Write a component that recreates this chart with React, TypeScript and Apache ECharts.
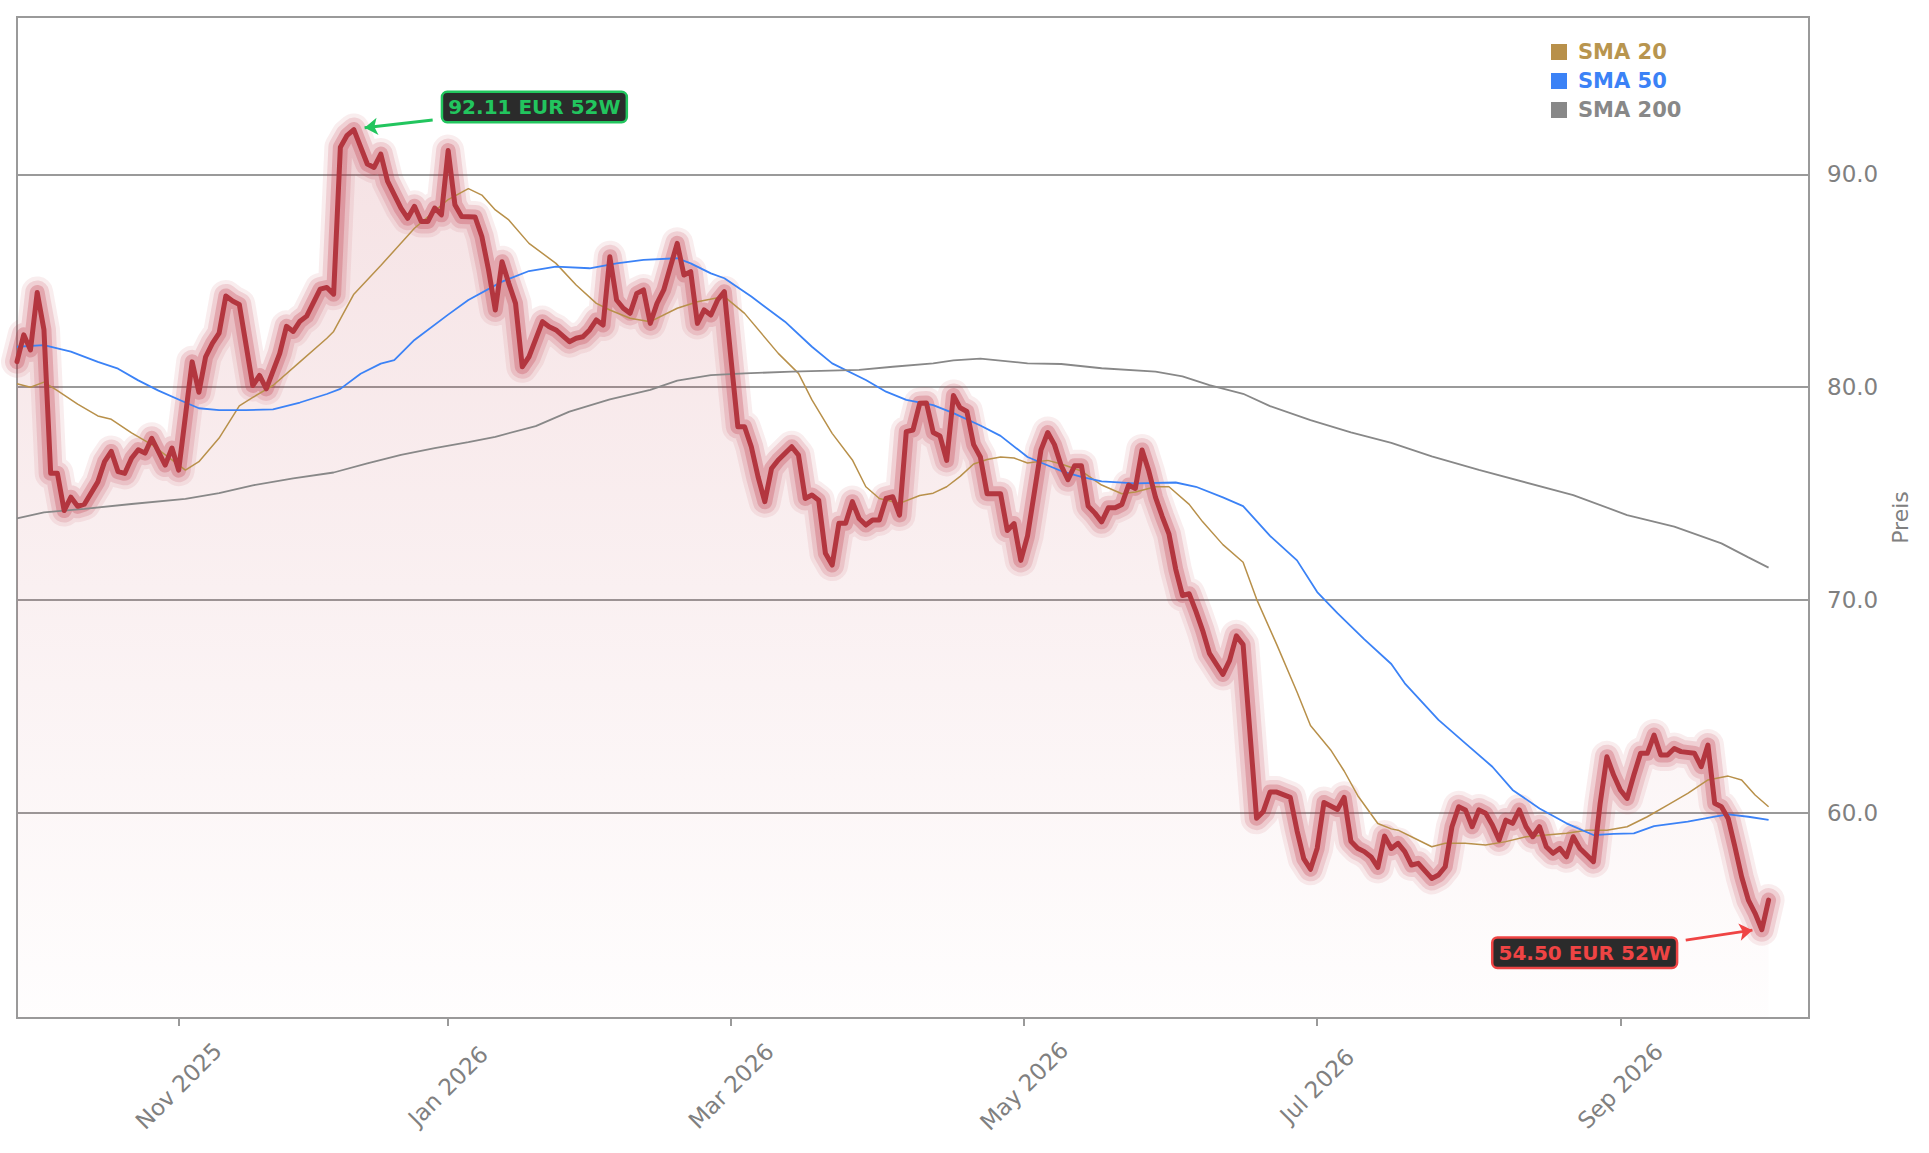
import { useEffect, useRef } from "react";
import * as echarts from "echarts";

// Schlusskurse: [Handelstag-Index, Preis]
const price: [number, number][] = [
	[0, 81.2], [1, 82.46], [2, 81.75], [3, 84.45], [4, 82.7], [5, 75.95], [6, 75.95], [7, 74.2], [8, 74.83], [9, 74.4],
	[10, 74.5], [12, 75.55], [13, 76.5], [14, 76.98], [15, 76.03], [16, 75.95], [17, 76.66], [18, 77.06], [19, 76.9], [20, 77.6],
	[22, 76.34], [23, 77.14], [24, 76.1], [26, 81.19], [27, 79.76], [28, 81.43], [29, 82.06], [30, 82.54], [31, 84.29], [32, 84.05],
	[33, 83.89], [35, 80.08], [36, 80.55], [37, 79.92], [39, 81.59], [40, 82.86], [41, 82.62], [42, 83.1], [43, 83.34], [45, 84.61],
	[46, 84.69], [47, 84.37], [48, 91.28], [49, 91.84], [50, 92.11], [52, 90.49], [53, 90.33], [54, 90.96], [55, 89.69], [57, 88.42],
	[58, 87.94], [59, 88.5], [60, 87.79], [61, 87.79], [62, 88.42], [63, 88.1], [64, 91.12], [65, 88.58], [66, 88.02], [68, 88.0],
	[69, 87.08], [70, 85.51], [71, 83.63], [72, 85.9], [73, 84.88], [74, 83.94], [75, 80.96], [76, 81.43], [78, 83.08], [79, 82.84],
	[80, 82.69], [82, 82.14], [83, 82.3], [84, 82.37], [85, 82.69], [86, 83.16], [87, 82.92], [88, 86.13], [89, 84.1], [90, 83.71],
	[91, 83.47], [92, 84.41], [93, 84.57], [94, 83.0], [95, 83.94], [96, 84.57], [97, 85.67], [98, 86.76], [99, 85.27], [100, 85.43],
	[101, 83.0], [102, 83.63], [103, 83.39], [104, 84.1], [105, 84.49], [106, 81.28], [107, 78.14], [108, 78.14], [109, 77.2], [110, 75.79],
	[111, 74.62], [112, 76.18], [113, 76.58], [115, 77.2], [116, 76.81], [117, 74.77], [118, 74.93], [119, 74.69], [120, 72.19], [121, 71.64],
	[122, 73.6], [123, 73.6], [124, 74.62], [125, 73.83], [126, 73.52], [127, 73.76], [128, 73.76], [129, 74.77], [130, 74.85], [131, 73.99],
	[132, 77.91], [133, 77.99], [134, 79.24], [135, 79.26], [136, 77.87], [137, 77.71], [138, 76.56], [139, 79.61], [140, 79.03], [141, 78.86],
	[142, 77.3], [143, 76.72], [144, 74.99], [145, 74.99], [146, 74.99], [147, 73.26], [148, 73.59], [149, 71.86], [150, 73.01], [152, 77.05],
	[153, 77.87], [154, 77.3], [155, 76.31], [156, 75.65], [157, 76.31], [158, 76.31], [159, 74.41], [160, 74.08], [161, 73.67], [162, 74.33],
	[163, 74.33], [164, 74.49], [165, 75.4], [166, 75.24], [167, 77.05], [168, 76.06], [169, 74.82], [170, 73.92], [171, 73.09], [172, 71.44],
	[173, 70.21], [174, 70.29], [175, 69.46], [176, 68.56], [177, 67.49], [179, 66.5], [180, 67.16], [181, 68.31], [182, 67.9], [184, 59.74],
	[185, 60.06], [186, 60.97], [187, 60.97], [189, 60.72], [190, 59.16], [191, 57.84], [192, 57.34], [193, 58.33], [194, 60.48], [196, 60.15],
	[197, 60.72], [198, 58.66], [199, 58.33], [200, 58.17], [201, 57.92], [202, 57.43], [203, 58.9], [204, 58.32], [205, 58.56], [206, 58.17],
	[207, 57.54], [208, 57.62], [210, 56.91], [211, 57.07], [212, 57.46], [213, 59.34], [214, 60.28], [215, 60.13], [216, 59.34], [217, 60.13],
	[218, 59.97], [219, 59.42], [220, 58.72], [221, 59.65], [222, 59.5], [223, 60.13], [224, 59.34], [225, 58.87], [226, 59.34], [227, 58.4],
	[228, 58.09], [229, 58.32], [230, 57.93], [231, 58.87], [232, 58.32], [233, 58.01], [234, 57.7], [235, 60.44], [236, 62.63], [237, 61.77],
	[238, 61.07], [239, 60.67], [240, 61.77], [241, 62.79], [242, 62.79], [243, 63.65], [244, 62.71], [245, 62.71], [246, 63.02], [247, 62.87],
	[249, 62.79], [250, 62.16], [251, 63.18], [252, 60.44], [253, 60.28], [254, 59.73], [255, 58.4], [256, 56.99], [257, 55.89], [258, 55.27],
	[259, 54.5], [260, 55.89],
];

const sma20: [number, number][] = [
	[0, 80.16], [2, 80.0], [4, 80.24], [6, 79.84], [9, 79.2], [12, 78.65], [14, 78.49], [17, 77.85], [20, 77.3], [23, 76.58],
	[25, 76.1], [27, 76.5], [30, 77.61], [33, 79.12], [35, 79.52], [38, 80.08], [42, 81.19], [46, 82.3], [47, 82.62], [50, 84.37],
	[54, 85.72], [59, 87.47], [64, 88.82], [67, 89.33], [69, 89.03], [71, 88.33], [73, 87.86], [76, 86.76], [80, 85.82], [83, 84.8],
	[86, 83.94], [88, 83.63], [91, 83.24], [94, 83.08], [98, 83.71], [101, 84.02], [105, 84.26], [108, 83.47], [113, 81.59], [116, 80.65],
	[118, 79.4], [121, 77.83], [124, 76.58], [126, 75.32], [128, 74.77], [131, 74.54], [134, 74.91], [136, 75.02], [138, 75.32], [140, 75.81],
	[142, 76.39], [144, 76.6], [146, 76.72], [148, 76.67], [150, 76.44], [153, 76.56], [155, 76.39], [158, 76.06], [161, 75.4], [164, 74.99],
	[166, 75.07], [169, 75.32], [171, 75.32], [174, 74.49], [176, 73.67], [179, 72.6], [182, 71.77], [184, 70.04], [187, 67.9], [190, 65.67],
	[192, 64.1], [195, 62.95], [197, 61.96], [199, 60.81], [202, 59.49], [204, 59.24], [205, 59.18], [207, 58.87], [210, 58.4], [212, 58.56],
	[215, 58.56], [218, 58.48], [221, 58.64], [224, 58.87], [227, 58.95], [230, 59.03], [233, 59.18], [236, 59.18], [239, 59.34], [242, 59.81],
	[245, 60.36], [248, 60.91], [251, 61.54], [254, 61.72], [256, 61.54], [258, 60.83], [260, 60.28],
];

const sma50: [number, number][] = [
	[0, 81.9], [4, 81.98], [8, 81.67], [12, 81.19], [15, 80.87], [18, 80.32], [21, 79.84], [25, 79.28], [27, 79.01], [30, 78.92],
	[34, 78.92], [38, 78.96], [42, 79.28], [46, 79.68], [48, 79.92], [51, 80.63], [54, 81.11], [56, 81.27], [59, 82.22], [64, 83.41],
	[67, 84.1], [72, 84.96], [76, 85.46], [80, 85.67], [85, 85.59], [89, 85.82], [93, 85.98], [98, 86.06], [100, 85.82], [103, 85.35],
	[105, 85.12], [109, 84.26], [114, 83.08], [118, 81.9], [121, 81.12], [126, 80.34], [129, 79.79], [132, 79.4], [136, 79.16], [139, 78.78],
	[143, 78.2], [146, 77.71], [150, 76.72], [155, 76.06], [158, 75.78], [161, 75.57], [166, 75.48], [172, 75.52], [175, 75.32], [179, 74.82],
	[182, 74.41], [186, 73.01], [190, 71.86], [193, 70.37], [196, 69.38], [200, 68.15], [204, 66.99], [206, 66.08], [211, 64.36], [215, 63.26],
	[219, 62.16], [222, 61.07], [226, 60.2], [230, 59.5], [234, 58.95], [237, 59.0], [240, 59.03], [243, 59.37], [248, 59.58], [252, 59.81],
	[254, 59.92], [257, 59.81], [260, 59.66],
];

const sma200: [number, number][] = [
	[0, 73.83], [4, 74.12], [10, 74.28], [17, 74.51], [25, 74.75], [30, 75.02], [35, 75.39], [41, 75.71], [47, 75.99], [52, 76.42],
	[57, 76.82], [62, 77.14], [67, 77.42], [71, 77.67], [77, 78.17], [82, 78.85], [88, 79.43], [94, 79.87], [98, 80.31], [103, 80.57],
	[108, 80.65], [115, 80.73], [125, 80.81], [130, 80.96], [136, 81.12], [139, 81.26], [143, 81.34], [150, 81.12], [155, 81.09], [161, 80.89],
	[169, 80.73], [173, 80.51], [177, 80.1], [182, 79.69], [186, 79.11], [192, 78.45], [198, 77.88], [204, 77.38], [210, 76.75], [217, 76.11],
	[231, 74.93], [239, 73.99], [246, 73.45], [253, 72.66], [257, 72.0], [260, 71.52],
];

const monthTicks = [24, 64, 106, 149.5, 193, 238];
const monthLabels = ["Nov 2025", "Jan 2026", "Mar 2026", "May 2026", "Jul 2026", "Sep 2026"];
const priceTicks = [60, 70, 80, 90];

const FONT = "DejaVu Sans";
const AXIS_GRAY = "#9a9a9a";
const TEXT_GRAY = "#808080";
const GLOW = "190, 50, 65";

const App: React.FC = () => {
	const chartRef = useRef<HTMLDivElement>(null);

	useEffect(() => {
		if (!chartRef.current) return;
		const chart = echarts.init(chartRef.current, undefined, { renderer: "svg" });

		// 52-Wochen-Hoch und -Tief
		const hi = price.reduce((a, b) => (b[1] > a[1] ? b : a));
		const lo = price.reduce((a, b) => (b[1] < a[1] ? b : a));

		const glow = (width: number, alpha: number) => ({
			type: "line",
			data: price,
			showSymbol: false,
			silent: true,
			lineStyle: { width, color: `rgba(${GLOW}, ${alpha})`, join: "round", cap: "round" },
			z: 2,
		});

		const sma = (name: string, data: [number, number][], color: string, width: number) => ({
			name,
			type: "line",
			data,
			showSymbol: false,
			silent: true,
			itemStyle: { color },
			lineStyle: { width, color },
			z: 3,
		});

		const boxLabel = (color: string) => ({
			show: true,
			position: "inside",
			color,
			fontFamily: FONT,
			fontSize: 20,
			fontWeight: "bold",
			backgroundColor: "#2b2b2b",
			borderColor: color,
			borderWidth: 2.5,
			borderRadius: 4,
			padding: [5, 5, 3, 5],
		});

		const option = {
			animation: false,
			backgroundColor: "#ffffff",
			textStyle: { fontFamily: FONT },
			grid: {
				left: 17,
				top: 17,
				width: 1792,
				height: 1001,
				show: true,
				borderColor: AXIS_GRAY,
				borderWidth: 2,
			},
			legend: {
				orient: "vertical",
				left: 1546,
				top: 35,
				icon: "rect",
				itemWidth: 16,
				itemHeight: 16,
				itemGap: 5,
				selectedMode: false,
				textStyle: { fontFamily: FONT, fontSize: 21, fontWeight: "bold", lineHeight: 24, padding: [0, 0, 0, 6] },
				data: [
					{ name: "SMA 20", textStyle: { color: "#b8954f" } },
					{ name: "SMA 50", textStyle: { color: "#3b82f6" } },
					{ name: "SMA 200", textStyle: { color: "#888888" } },
				],
			},
			xAxis: {
				type: "value",
				min: 0,
				max: 266,
				axisLine: { show: true, onZero: false, lineStyle: { color: AXIS_GRAY, width: 2 } },
				axisTick: { show: true, length: 8, customValues: monthTicks, lineStyle: { color: AXIS_GRAY, width: 2 } },
				axisLabel: {
					customValues: monthTicks,
					formatter: (v: number) => monthLabels[monthTicks.indexOf(v)] ?? "",
					rotate: 45,
					align: "center",
					verticalAlign: "middle",
					margin: 68,
					color: TEXT_GRAY,
					fontFamily: FONT,
					fontSize: 23,
				},
				splitLine: { show: false },
			},
			yAxis: {
				type: "value",
				position: "right",
				min: 50.35,
				max: 97.4,
				name: "Preis",
				nameLocation: "middle",
				nameRotate: 90,
				nameGap: 80,
				nameTextStyle: { color: TEXT_GRAY, fontFamily: FONT, fontSize: 22 },
				axisLine: { show: true, lineStyle: { color: AXIS_GRAY, width: 2 } },
				axisTick: { show: true, length: 8, customValues: priceTicks, lineStyle: { color: AXIS_GRAY, width: 2 } },
				axisLabel: {
					customValues: priceTicks,
					formatter: (v: number) => v.toFixed(1),
					margin: 18,
					color: TEXT_GRAY,
					fontFamily: FONT,
					fontSize: 23,
				},
				splitLine: { show: true, lineStyle: { color: AXIS_GRAY, width: 2 } },
			},
			series: [
				{
					type: "line",
					data: price,
					showSymbol: false,
					silent: true,
					lineStyle: { width: 0 },
					areaStyle: {
						origin: "start",
						color: new echarts.graphic.LinearGradient(0, 0, 0, 1, [
							{ offset: 0, color: "rgba(185, 45, 60, 0.2)" },
							{ offset: 1, color: "rgba(185, 45, 60, 0.01)" },
						]),
					},
					z: 1,
				},
				glow(32, 0.09),
				glow(24, 0.15),
				glow(15, 0.26),
				sma("SMA 20", sma20, "#b8904a", 1.5),
				sma("SMA 50", sma50, "#3b82f6", 1.8),
				sma("SMA 200", sma200, "#888888", 1.8),
				{
					type: "line",
					data: price,
					showSymbol: false,
					silent: true,
					lineStyle: { width: 5, color: "#b3363f", join: "round", cap: "round" },
					z: 4,
					markLine: {
						silent: true,
						animation: false,
						label: { show: false },
						symbolSize: 13,
						data: [
							[
								{ coord: [hi[0] + 11.7, hi[1] + 0.45], symbol: "none", lineStyle: { color: "#22c55e", width: 3, type: "solid" } },
								{ coord: [hi[0] + 1.6, hi[1] + 0.08], symbol: "arrow" },
							],
							[
								{ coord: [lo[0] - 11.3, lo[1] - 0.49], symbol: "none", lineStyle: { color: "#ef4444", width: 3, type: "solid" } },
								{ coord: [lo[0] - 1.4, lo[1] - 0.02], symbol: "arrow" },
							],
						],
					},
					markPoint: {
						silent: true,
						symbol: "rect",
						symbolSize: 1,
						itemStyle: { color: "transparent" },
						data: [
							{
								coord: [hi[0] + 26.8, hi[1] + 1.06],
								label: { ...boxLabel("#22c55e"), formatter: `${hi[1].toFixed(2)} EUR 52W` },
							},
							{
								coord: [lo[0] - 26.3, lo[1] - 1.08],
								label: { ...boxLabel("#ef4444"), formatter: `${lo[1].toFixed(2)} EUR 52W` },
							},
						],
					},
				},
			],
		};

		chart.setOption(option as echarts.EChartsOption);

		const handleResize = () => chart.resize();
		window.addEventListener("resize", handleResize);

		return () => {
			window.removeEventListener("resize", handleResize);
			chart.dispose();
		};
	}, []);

	return <div ref={chartRef} style={{ position: "fixed", left: 0, top: 0, width: 1929, height: 1153 }} />;
};

export default App;
